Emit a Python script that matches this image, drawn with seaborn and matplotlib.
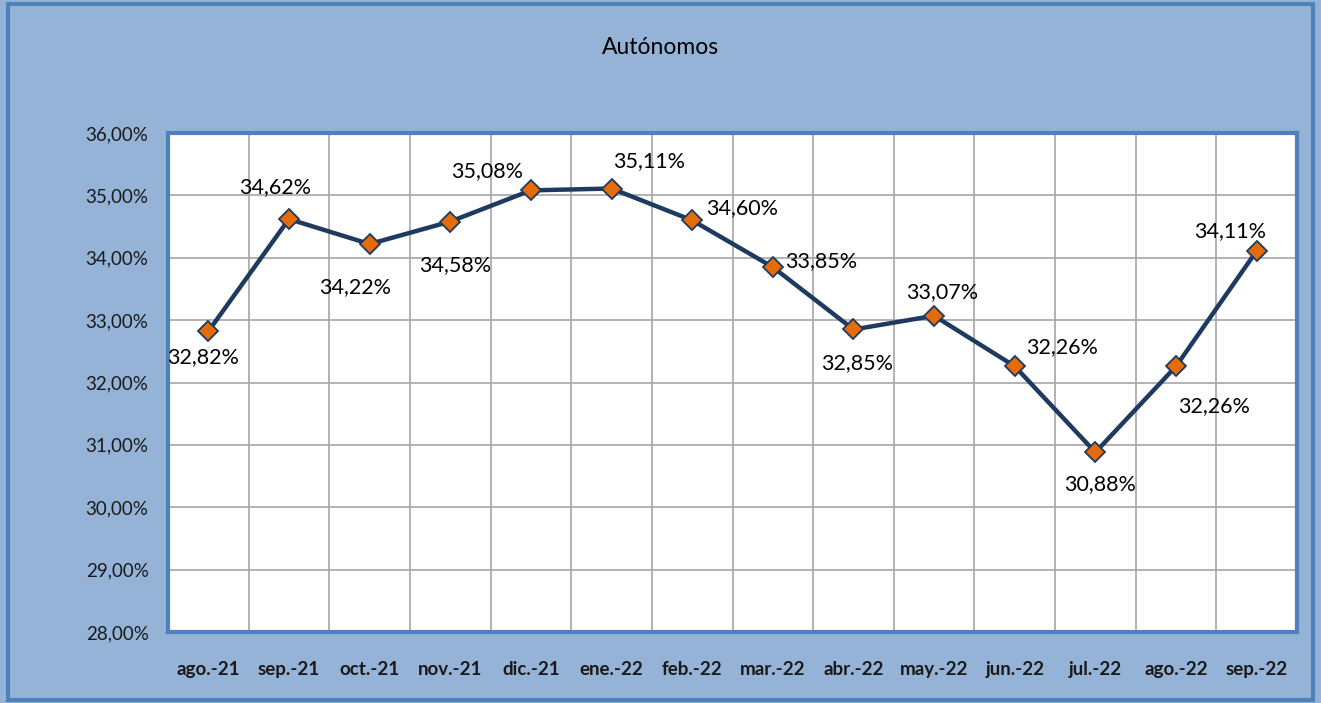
import pandas as pd
import numpy as np
import matplotlib
matplotlib.use('Agg')
import matplotlib.pyplot as plt
import seaborn as sns
from matplotlib.patches import Rectangle
from matplotlib.ticker import FixedLocator

# ---------------------------------------------------------
# datos
# ---------------------------------------------------------
meses = ['ago.-21', 'sep.-21', 'oct.-21', 'nov.-21', 'dic.-21', 'ene.-22', 'feb.-22',
         'mar.-22', 'abr.-22', 'may.-22', 'jun.-22', 'jul.-22', 'ago.-22', 'sep.-22']
valores = [32.82, 34.62, 34.22, 34.58, 35.08, 35.11, 34.60,
           33.85, 32.85, 33.07, 32.26, 30.88, 32.26, 34.11]
y_ticks = [28, 29, 30, 31, 32, 33, 34, 35, 36]
titulo = 'Autónomos'

# desplazamiento de cada etiqueta (px) respecto al punto
offsets = [(-5, -26), (-14, 32), (-14, -43), (5, -44), (-44, 19), (38, 27), (50, 12),
           (48, 6), (4, -34), (8, 24), (47, 19), (5, -32), (38, -40), (-27, 20)]

df = pd.DataFrame({'mes': meses, 'valor': valores})
df['pos'] = np.arange(len(df))

sns.set_theme(style='white')
plt.rcParams['font.family'] = ['Lato', 'DejaVu Sans']

fig = plt.figure(figsize=(13.21, 7.03), dpi=100)
fig.patch.set_facecolor('#95B3D7')

# borde exterior
fig.patches.append(Rectangle((8 / 1321, 3 / 703), 1305 / 1321, 696 / 703,
                             transform=fig.transFigure, fill=False,
                             edgecolor='#4F81BD', linewidth=3, zorder=0))

ax = fig.add_axes([168 / 1321, 1 - 632 / 703, (1297 - 168) / 1321, (632 - 133) / 703])
ax.set_facecolor('white')

sns.lineplot(data=df, x='pos', y='valor', ax=ax, sort=False, color='#1F3A60',
             linewidth=3.2, marker='D', markersize=10.5,
             markerfacecolor='#E46C0A', markeredgecolor='#1F3A60', markeredgewidth=1.3,
             zorder=3)

ax.set_xlim(-0.5, len(meses) - 0.5)
ax.set_ylim(y_ticks[0], y_ticks[-1])
ax.set_yticks(y_ticks)
ax.set_yticklabels([f'{v:.2f}%'.replace('.', ',') for v in y_ticks], fontsize=13.5)
ax.set_xticks(df['pos'])
ax.set_xticklabels(meses, fontsize=13.5, fontweight='bold')
ax.xaxis.set_minor_locator(FixedLocator(np.arange(0.5, len(meses) - 0.5, 1)))
ax.tick_params(axis='both', length=0, colors='#1a1a1a')
ax.tick_params(axis='y', pad=14)
ax.tick_params(axis='x', pad=21)
ax.grid(False)
ax.grid(axis='y', which='major', color='#A6A6A6', linewidth=1.2)
ax.grid(axis='x', which='minor', color='#A6A6A6', linewidth=1.2)
ax.set_xlabel('')
ax.set_ylabel('')

for sp in ax.spines.values():
    sp.set_color('#4F81BD')
    sp.set_linewidth(3)

for i, (v, off) in enumerate(zip(valores, offsets)):
    ax.annotate(f'{v:.2f}%'.replace('.', ','), xy=(i, v), xytext=(off[0] * 0.72, off[1] * 0.72),
                textcoords='offset points', ha='center', va='center',
                fontsize=15.5, color='black', zorder=4)

fig.text(661 / 1321, 1 - 47 / 703, titulo, ha='center', va='center', fontsize=16.5, color='black')

fig.savefig('out.png', dpi=100, facecolor=fig.get_facecolor())
